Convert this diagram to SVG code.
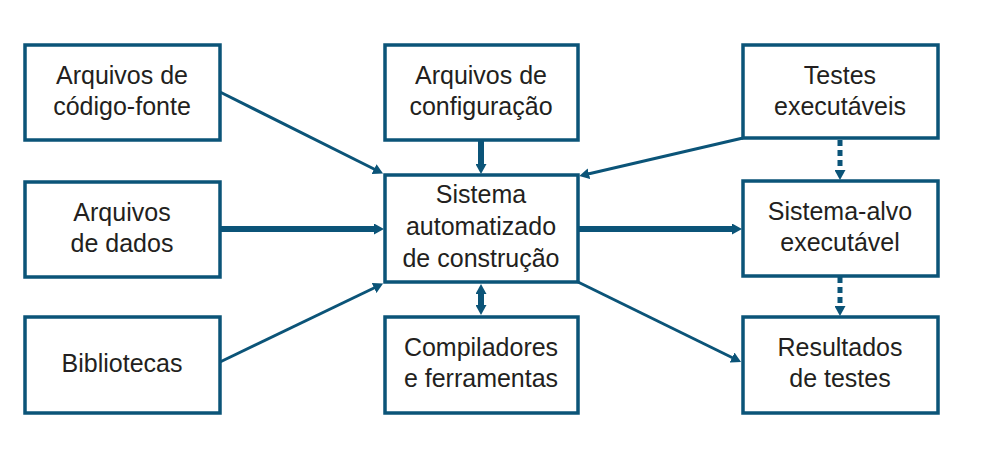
<svg xmlns="http://www.w3.org/2000/svg" width="989" height="475" viewBox="0 0 989 475">
<defs>
<marker id="ah" markerUnits="userSpaceOnUse" markerWidth="10" markerHeight="11" viewBox="0 0 10 11" refX="1" refY="5.5" orient="auto-start-reverse">
<path d="M0,0 L10,5.5 L0,11 Z" fill="#0b5478"/>
</marker>
</defs>
<style>
.box{fill:#fff;stroke:#0b5478;stroke-width:3.5}
.t{font-family:"Liberation Sans",Arial,sans-serif;font-size:25px;fill:#231f20;text-anchor:middle}
.c{fill:none;stroke:#0b5478}
.thin{stroke-width:3}
.thick{stroke-width:6}
.dash{stroke-width:5;stroke-dasharray:6 4}
</style>
<rect width="989" height="475" fill="#fff"/>
<g id="connectors">
<line class="c thin" x1="220" y1="92" x2="375" y2="169.5" marker-end="url(#ah)"/>
<line class="c thick" x1="481" y1="140" x2="481" y2="165" marker-end="url(#ah)"/>
<line class="c thick" x1="220" y1="229" x2="375" y2="229" marker-end="url(#ah)"/>
<line class="c thin" x1="220" y1="362" x2="375" y2="287.5" marker-end="url(#ah)"/>
<line class="c thin" x1="743" y1="138" x2="588" y2="174" marker-end="url(#ah)"/>
<line class="c thick" x1="578" y1="229" x2="733" y2="229" marker-end="url(#ah)"/>
<line class="c thin" x1="578" y1="282" x2="733" y2="358" marker-end="url(#ah)"/>
<line class="c thick" x1="481" y1="293" x2="481" y2="306" marker-start="url(#ah)" marker-end="url(#ah)"/>
<line class="c dash" x1="840" y1="140" x2="840" y2="171" marker-end="url(#ah)"/>
<line class="c dash" x1="840" y1="277" x2="840" y2="307" marker-end="url(#ah)"/>
</g>
<g id="n-codigo"><rect class="box" x="25" y="45" width="195" height="95"/><text class="t" x="122" y="84">Arquivos de</text><text class="t" x="122" y="115">código-fonte</text></g>
<g id="n-dados"><rect class="box" x="25" y="182" width="195" height="95"/><text class="t" x="122" y="221">Arquivos</text><text class="t" x="122" y="252">de dados</text></g>
<g id="n-bibliotecas"><rect class="box" x="25" y="317" width="195" height="96"/><text class="t" x="122" y="372">Bibliotecas</text></g>
<g id="n-config"><rect class="box" x="385" y="45" width="193" height="95"/><text class="t" x="481" y="84">Arquivos de</text><text class="t" x="481" y="115">configuração</text></g>
<g id="n-sistema"><rect class="box" x="385" y="175" width="193" height="107"/><text class="t" x="481" y="203">Sistema</text><text class="t" x="481" y="235">automatizado</text><text class="t" x="481" y="267">de construção</text></g>
<g id="n-compiladores"><rect class="box" x="385" y="317" width="193" height="96"/><text class="t" x="481" y="356">Compiladores</text><text class="t" x="481" y="387">e ferramentas</text></g>
<g id="n-testes"><rect class="box" x="743" y="45" width="195" height="93"/><text class="t" x="840" y="84">Testes</text><text class="t" x="840" y="115">executáveis</text></g>
<g id="n-alvo"><rect class="box" x="743" y="181" width="195" height="95"/><text class="t" x="840" y="220">Sistema-alvo</text><text class="t" x="840" y="251">executável</text></g>
<g id="n-resultados"><rect class="box" x="743" y="317" width="195" height="96"/><text class="t" x="840" y="356">Resultados</text><text class="t" x="840" y="387">de testes</text></g>
</svg>
